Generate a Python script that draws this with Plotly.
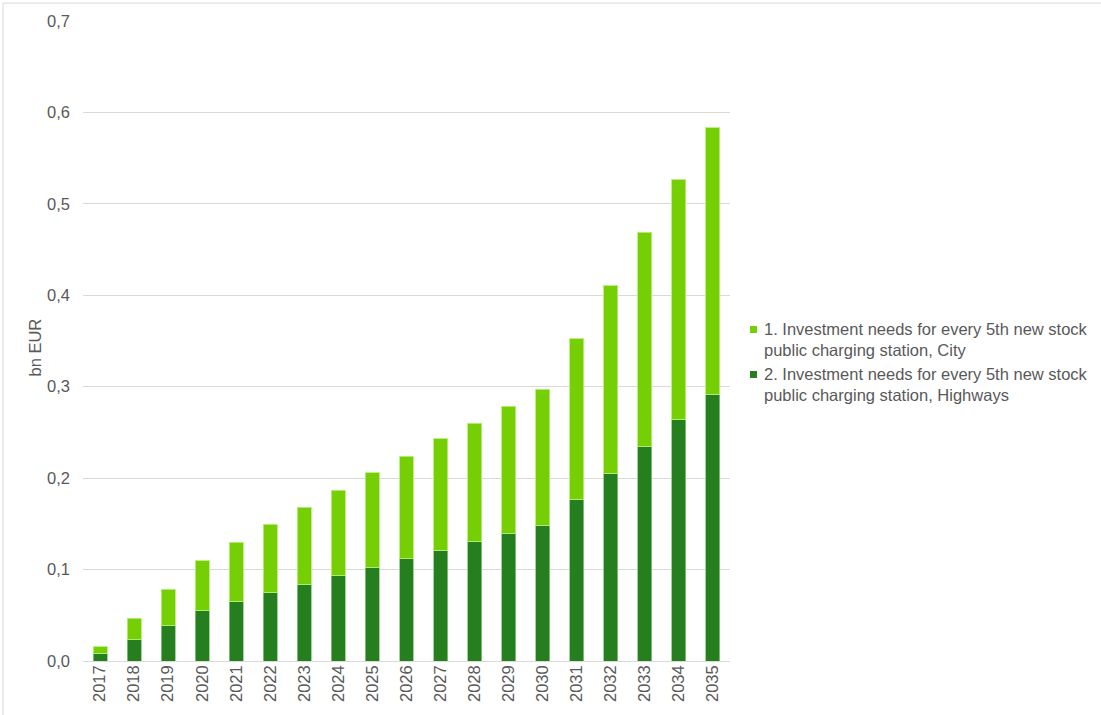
import plotly.graph_objects as go

years = [str(y) for y in range(2017, 2036)]

# Investment needs, bn EUR
highways = [0.008, 0.023, 0.0386, 0.0547, 0.0649, 0.0744, 0.0839, 0.0933, 0.1028, 0.1119,
            0.1214, 0.1305, 0.140, 0.1484, 0.1768, 0.2056, 0.2344, 0.2636, 0.292]
city = [0.0076, 0.0237, 0.0398, 0.055, 0.0649, 0.0754, 0.0841, 0.0937, 0.1032, 0.1123,
        0.1218, 0.1298, 0.1386, 0.1486, 0.1757, 0.2049, 0.2345, 0.2628, 0.2913]

name_city = "1. Investment needs for every 5th new stock<br>public charging station, City"
name_hw = "2. Investment needs for every 5th new stock<br>public charging station, Highways"

c_city = "#76CF05"
c_hw = "#267F1E"
font_fam = "Liberation Sans, Arial, sans-serif"
txt = "#595959"
fs = 16.5

fig = go.Figure()
fig.add_trace(go.Bar(x=years, y=highways, name=name_hw,
                     marker=dict(color=c_hw, line=dict(color="rgba(140,200,130,0.8)", width=1)),
                     width=0.41, showlegend=False))
fig.add_trace(go.Bar(x=years, y=city, name=name_city,
                     marker=dict(color=c_city, line=dict(color="rgba(180,240,120,0.9)", width=1)),
                     width=0.41, showlegend=False))

# Legend drawn as swatches + text on the right side
legend_items = [(name_city, c_city, 0.5016), (name_hw, c_hw, 0.4313)]
annotations = [dict(text="bn EUR", textangle=-90, xref="paper", yref="paper",
                    x=-0.074, y=0.49, xanchor="center", yanchor="middle",
                    showarrow=False, font=dict(size=fs, color=txt))]
shapes = [
    dict(type="line", xref="paper", yref="paper", x0=-0.1236, x1=1.6, y0=1.028, y1=1.028,
         line=dict(color="#d9d9d9", width=1)),
    dict(type="line", xref="paper", yref="paper", x0=-0.1236, x1=-0.1236, y0=1.028, y1=-0.1,
         line=dict(color="#d9d9d9", width=1)),
]
for label, col, yc in legend_items:
    annotations.append(dict(text=label, xref="paper", yref="paper", x=1.049, y=yc,
                            xanchor="left", yanchor="middle", align="left", showarrow=False,
                            font=dict(size=fs, color=txt)))
    shapes.append(dict(type="rect", xref="paper", yref="paper",
                       xsizemode="pixel", ysizemode="pixel",
                       xanchor=1.0363, yanchor=yc + 0.0164,
                       x0=-3.5, x1=3.5, y0=-3.5, y1=3.5,
                       fillcolor=col, line=dict(width=0)))

fig.update_layout(
    width=1101, height=715,
    margin=dict(l=83, r=371, t=21, b=54),
    barmode="stack",
    separators=",.",
    showlegend=False,
    paper_bgcolor="white", plot_bgcolor="white",
    font=dict(family=font_fam, size=fs, color=txt),
    xaxis=dict(type="category", tickangle=-90, showgrid=False, showline=False,
               ticks="", tickfont=dict(size=fs, color=txt)),
    yaxis=dict(range=[0, 0.7], dtick=0.1, tickformat=".1f", showgrid=True,
               gridcolor="#d9d9d9", gridwidth=1, zeroline=True, zerolinecolor="#d9d9d9",
               zerolinewidth=1, ticks="", ticklabelstandoff=12,
               tickfont=dict(size=fs, color=txt)),
    annotations=annotations,
    shapes=shapes,
)

fig.write_html("out.html")
